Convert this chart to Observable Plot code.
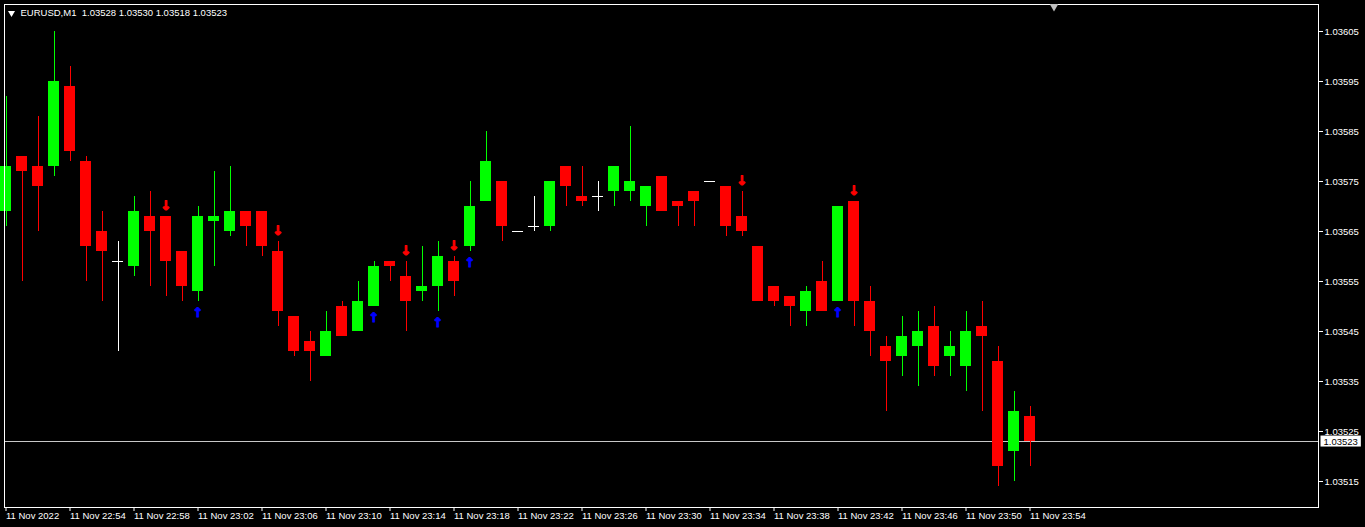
<!DOCTYPE html>
<html><head><meta charset="utf-8">
<script src="https://cdn.jsdelivr.net/npm/d3@7"></script>
<script src="https://cdn.jsdelivr.net/npm/@observablehq/plot@0.6"></script>
<style>
html,body{margin:0;padding:0;background:#000;overflow:hidden;}
#chart{width:1365px;height:527px;}
</style></head><body><div id="chart"></div>
<script>
// ---- data (EURUSD M1, 11 Nov 2022 22:50 .. 23:54) ----
const symbolName = "EURUSD,M1";
const opens  = [1.03569,1.03580,1.03578,1.03578,1.03594,1.03579,1.03565,1.03559,1.03558,1.03568,
                1.03568,1.03561,1.03553,1.03567,1.03565,1.03569,1.03569,1.03561,1.03548,1.03543,
                1.03540,1.03550,1.03545,1.03550,1.03559,1.03556,1.03553,1.03554,1.03559,1.03562,
                1.03571,1.03575,1.03565,1.03566,1.03566,1.03578,1.03572,1.03572,1.03573,1.03573,
                1.03570,1.03576,1.03571,1.03573,1.03575,1.03574,1.03568,1.03562,1.03554,1.03552,
                1.03549,1.03555,1.03551,1.03571,1.03551,1.03542,1.03540,1.03542,1.03546,1.03540,
                1.03538,1.03546,1.03539,1.03521,1.03528];
const highs  = [1.03592,1.03580,1.03588,1.03605,1.03598,1.03580,1.03569,1.03563,1.03572,1.03573,
                1.03568,1.03561,1.03570,1.03577,1.03578,1.03569,1.03569,1.03563,1.03548,1.03545,
                1.03549,1.03551,1.03555,1.03559,1.03559,1.03559,1.03562,1.03563,1.03560,1.03575,
                1.03585,1.03575,1.03565,1.03572,1.03575,1.03578,1.03578,1.03575,1.03578,1.03586,
                1.03574,1.03576,1.03571,1.03573,1.03575,1.03574,1.03573,1.03562,1.03554,1.03552,
                1.03554,1.03559,1.03570,1.03571,1.03554,1.03544,1.03548,1.03549,1.03550,1.03545,
                1.03549,1.03551,1.03542,1.03533,1.03530];
const lows   = [1.03566,1.03555,1.03565,1.03576,1.03579,1.03555,1.03551,1.03541,1.03556,1.03554,
                1.03552,1.03551,1.03551,1.03558,1.03564,1.03562,1.03560,1.03546,1.03540,1.03535,
                1.03540,1.03544,1.03545,1.03550,1.03555,1.03545,1.03551,1.03549,1.03552,1.03561,
                1.03571,1.03563,1.03565,1.03565,1.03565,1.03570,1.03570,1.03569,1.03570,1.03571,
                1.03566,1.03569,1.03566,1.03566,1.03575,1.03564,1.03564,1.03551,1.03550,1.03546,
                1.03546,1.03549,1.03551,1.03546,1.03540,1.03529,1.03536,1.03534,1.03536,1.03536,
                1.03533,1.03529,1.03514,1.03515,1.03518];
const closes = [1.03578,1.03577,1.03574,1.03595,1.03581,1.03562,1.03561,1.03559,1.03569,1.03565,
                1.03559,1.03554,1.03568,1.03568,1.03569,1.03566,1.03562,1.03549,1.03541,1.03541,
                1.03545,1.03544,1.03551,1.03558,1.03558,1.03551,1.03554,1.03560,1.03555,1.03570,
                1.03579,1.03566,1.03565,1.03566,1.03575,1.03574,1.03571,1.03572,1.03578,1.03575,
                1.03574,1.03569,1.03570,1.03571,1.03575,1.03566,1.03565,1.03551,1.03551,1.03550,
                1.03553,1.03549,1.03570,1.03551,1.03545,1.03539,1.03544,1.03545,1.03538,1.03542,
                1.03545,1.03544,1.03518,1.03529,1.03523];
const sellSignals = [10, 17, 25, 28, 46, 53];   // red down arrows (candle index)
const buySignals  = [12, 23, 27, 29, 52];       // blue up arrows
const priceTicks = [1.03515,1.03525,1.03535,1.03545,1.03555,1.03565,1.03575,1.03585,1.03595,1.03605];
const timeTickIndex = [0,4,8,12,16,20,24,28,32,36,40,44,48,52,56,60,64];
const timeTickLabels = ["11 Nov 2022","11 Nov 22:54","11 Nov 22:58","11 Nov 23:02","11 Nov 23:06",
  "11 Nov 23:10","11 Nov 23:14","11 Nov 23:18","11 Nov 23:22","11 Nov 23:26","11 Nov 23:30",
  "11 Nov 23:34","11 Nov 23:38","11 Nov 23:42","11 Nov 23:46","11 Nov 23:50","11 Nov 23:54"];
const chartShiftIndex = [65.5];

// ---- chart ----
const bull = "#00ff00", bear = "#ff0000", dojiColor = "#ffffff";
const candles = opens.map((o, i) => ({i, open: o, high: highs[i], low: lows[i], close: closes[i]}));
const colorOf = d => d.close > d.open ? bull : d.close < d.open ? bear : dojiColor;
const last = candles[candles.length - 1];
const fmt = d3.format(".5f");
const half = 0.34375;
const header = `${symbolName}  ${fmt(last.open)} ${fmt(last.high)} ${fmt(last.low)} ${fmt(last.close)}`;
const LABEL_INK = "#010101";

const chart = Plot.plot({
  width: 1365, height: 527,
  marginTop: 4, marginLeft: 4, marginRight: 47, marginBottom: 20,
  style: {background: "#000", color: "#fff", fontFamily: "Liberation Sans, Arial, sans-serif", fontSize: "9.5px"},
  x: {type: "linear", domain: [-0.09375, 82.03125], axis: null, label: null},
  y: {type: "linear", domain: [1.035098, 1.036104], axis: null, label: null},
  marks: [
    Plot.ruleY([last.close], {stroke: "#c8c8c8", shapeRendering: "crispEdges"}),
    Plot.ruleX(candles, {x: "i", y1: "low", y2: "high", stroke: colorOf, shapeRendering: "crispEdges"}),
    Plot.rect(candles.filter(d => d.close !== d.open), {
      x1: d => d.i - half, x2: d => d.i + half, y1: "open", y2: "close",
      fill: colorOf, shapeRendering: "crispEdges"}),
    Plot.ruleY(candles.filter(d => d.close === d.open), {
      y: "close", x1: d => d.i - half, x2: d => d.i + half, stroke: dojiColor, shapeRendering: "crispEdges"}),
    Plot.text(candles.filter(d => sellSignals.includes(d.i)), {
      x: "i", y: "high", text: () => "↓", dy: -11, fill: bear, stroke: bear, strokeWidth: 1,
      fontFamily: "DejaVu Sans", fontWeight: "bold", fontSize: 13, lineAnchor: "middle"}),
    Plot.text(candles.filter(d => buySignals.includes(d.i)), {
      x: "i", y: "low", text: () => "↑", dy: 11, fill: "#0000ff", stroke: "#0000ff", strokeWidth: 1,
      fontFamily: "DejaVu Sans", fontWeight: "bold", fontSize: 13, lineAnchor: "middle"}),
    Plot.frame({stroke: "#fff", shapeRendering: "crispEdges"}),
    Plot.dot(chartShiftIndex, {x: d => d, frameAnchor: "top", symbol: "triangle", rotate: 180, r: 3.2,
      fill: "#c0c0c0", dy: 2}),
    Plot.dot([header], {frameAnchor: "top-left", symbol: "triangle", rotate: 180, r: 2.6, fill: "#fff", dx: 7, dy: 8.5}),
    Plot.text([header], {frameAnchor: "top-left", text: d => d, textAnchor: "start", lineAnchor: "middle",
      dx: 16, dy: 8.5, fill: "#fff"}),
    Plot.axisY(priceTicks, {anchor: "right", label: null, tickSize: 4, tickPadding: 2, tickFormat: fmt, stroke: "#fff", fill: "#fff"}),
    Plot.axisX(timeTickIndex, {anchor: "bottom", label: null, tickSize: 4, tickPadding: 1, textAnchor: "start", dx: 0,
      tickFormat: d => timeTickLabels[timeTickIndex.indexOf(d)], stroke: "#fff", fill: "#fff"}),
    Plot.text([last.close], {y: d => d, frameAnchor: "right", text: d => fmt(d), textAnchor: "start",
      lineAnchor: "middle", dx: 5, fill: LABEL_INK})
  ]
});
document.getElementById("chart").appendChild(chart);

// white box behind the current-price label
const svg = chart.tagName.toLowerCase() === "svg" ? chart : chart.querySelector("svg");
d3.select(svg).selectAll("text").each(function() {
  const g = this.closest("g");
  const ink = (this.getAttribute("fill") || (g && g.getAttribute("fill")) || "").toLowerCase();
  if (ink !== LABEL_INK) return;
  const b = this.getBBox();
  const t = this.getAttribute("transform");
  d3.select(this.parentNode).insert("rect", () => this)
    .attr("transform", t)
    .attr("x", b.x - 3).attr("y", b.y).attr("width", b.width + 6).attr("height", b.height)
    .attr("fill", "#fff");
});
</script>
</body></html>
